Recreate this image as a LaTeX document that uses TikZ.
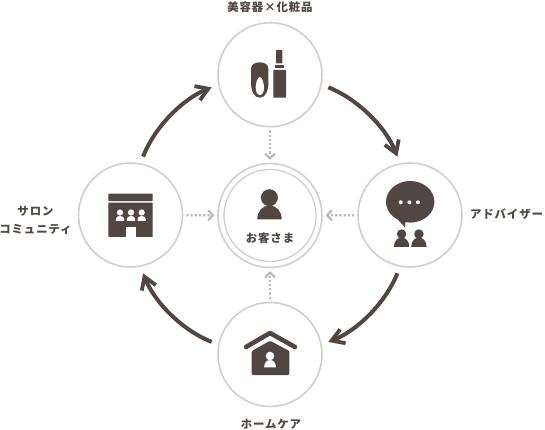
\documentclass[tikz,border=0pt]{standalone}
\usepackage{fontspec}
\usetikzlibrary{arrows.meta}
\newfontfamily\jp[LetterSpace=8]{Noto Sans CJK JP}
\definecolor{ink}{HTML}{524643}
\definecolor{ring}{HTML}{CFCFCD}
\definecolor{dots}{HTML}{B8B8B6}
\tikzset{
  hub/.style={circle,draw=ring,line width=1.6pt,minimum size=104pt,inner sep=0pt,fill=white},
  innerhub/.style={circle,draw=ring,line width=1.3pt,minimum size=92pt,inner sep=0pt},
  flow/.style={draw=ink,line width=4pt,shorten <=7pt,shorten >=7pt,looseness=.89,
    -{Straight Barb[length=12pt,width=15pt,line width=3.8pt]}},
  feed/.style={draw=dots,line width=2.4pt,dash pattern=on 2.2pt off 2pt,shorten <=3pt,shorten >=3pt,
    -{Straight Barb[length=4.5pt,width=10pt,line width=2.2pt]}},
  lab/.style={text=ink,font=\jp\bfseries\fontsize{11.4pt}{18pt}\selectfont,inner sep=0pt,align=center},
  icon/.style={fill=ink,draw=none},
  hole/.style={fill=white,draw=none}
}
\begin{document}
\begin{tikzpicture}[x=1pt,y=-1pt]
\useasboundingbox (0,0) rectangle (545,430);
% hubs
\node[hub] (top) at (270,74.7) {};
\node[hub] (right) at (410,215) {};
\node[hub] (bottom) at (270,354.5) {};
\node[hub] (left) at (130.5,215) {};
\node[hub] (centre) at (270,215.5) {};
\node[innerhub] (centreinner) at (270,215.5) {};
% cycle
\draw[flow] (top.-11) to[bend left=23.6] (right.101);
\draw[flow] (right.-101) to[bend left=23.6] (bottom.11);
\draw[flow] (bottom.169) to[bend left=23.6] (left.-79);
\draw[flow] (left.79) to[bend left=23.6] (top.191);
% feeds
\draw[feed] (top) -- (centre);
\draw[feed] (left) -- (centre);
\draw[feed] (right) -- (centre);
\draw[feed] (bottom) -- (centre);
% labels
\node[lab] (ltop) at (270,7) {美容器×化粧品};
\node[lab] (lright) at (506.5,214.5) {アドバイザー};
\node[lab] (lbottom) at (271,424.5) {ホームケア};
\node[lab] (lleft) at (35.5,220) {サロン\\コミュニティ};
\node[lab] (lcentre) at (270,238) {お客さま};
% lipstick + cosmetic
\fill[icon,rounded corners=.6pt] (276,50) rectangle (282.4,63.5);
\fill[icon] (275,65.3) rectangle (283.8,67.7);
\fill[icon,rounded corners=.6pt] (273.3,70) rectangle (286,97.7);
\fill[icon] (259.7,62.3) .. controls (264.5,62.3) and (268.4,64.5) .. (268.4,69)
  -- (268.4,82) .. controls (268.4,91) and (265.5,97.7) .. (259.7,97.7)
  .. controls (254,97.7) and (251,91) .. (251,82) -- (251,69)
  .. controls (251,64.5) and (255,62.3) .. (259.7,62.3) -- cycle;
\fill[hole] (259.8,77) .. controls (262,77) and (264,83) .. (264,87.5)
  .. controls (264,92) and (262.5,95) .. (259.8,95)
  .. controls (257.2,95) and (255.7,92) .. (255.7,87.5)
  .. controls (255.7,83) and (257.6,77) .. (259.8,77) -- cycle;
% shop
\fill[icon,rounded corners=.5pt] (108.3,193.7) rectangle (152.7,201);
\fill[icon,rounded corners=.5pt] (108.3,202.7) rectangle (152.7,236.8);
\fill[hole] (126,227.3) rectangle (136,236.8);
\foreach \cx in {120,131,141.7}{
  \fill[hole] (\cx,212.5) circle (3.1pt);
  \fill[hole] (\cx-4.2,220.8) .. controls (\cx-4.2,217.2) and (\cx-2.5,215.8) .. (\cx,215.8)
    .. controls (\cx+2.5,215.8) and (\cx+4.2,217.2) .. (\cx+4.2,220.8) -- cycle;
}
% customer
\fill[icon] (269.4,197.7) circle (8.5pt);
\fill[icon] (257.3,219.4) .. controls (257.3,211) and (262.5,205.5) .. (269.4,205.5)
  .. controls (276.5,205.5) and (281.7,211) .. (281.7,219.4) -- cycle;
% bubble
\fill[icon] (410.2,201.8) ellipse (24.2pt and 20.8pt);
\fill[icon] (396.5,218) -- (405,227.5) -- (405.5,220) -- cycle;
\foreach \cx in {400.7,409.4,418}{\fill[hole] (\cx,202.3) circle (2pt);}
\foreach \cx in {401.6,418.9}{
  \fill[icon] (\cx,234) circle (4.7pt);
  \fill[icon] (\cx-7.7,246.8) .. controls (\cx-7.7,241) and (\cx-4,237.5) .. (\cx,237.5)
    .. controls (\cx+4,237.5) and (\cx+7.7,241) .. (\cx+7.7,246.8) -- cycle;
}
% house
\draw[ink,line width=4.6pt,line cap=round,line join=round] (246,347) -- (270,333) -- (295,347);
\fill[icon,rounded corners=1.2pt] (251.7,351) -- (270,340.8) -- (289.4,351) -- (289.4,375) -- (251.7,375) -- cycle;
\fill[hole] (270,356) circle (4.3pt);
\fill[hole] (264.2,367.3) .. controls (264.2,362.8) and (266.5,360) .. (270,360)
  .. controls (273.5,360) and (275.9,362.8) .. (275.9,367.3) -- cycle;
\end{tikzpicture}
\end{document}
